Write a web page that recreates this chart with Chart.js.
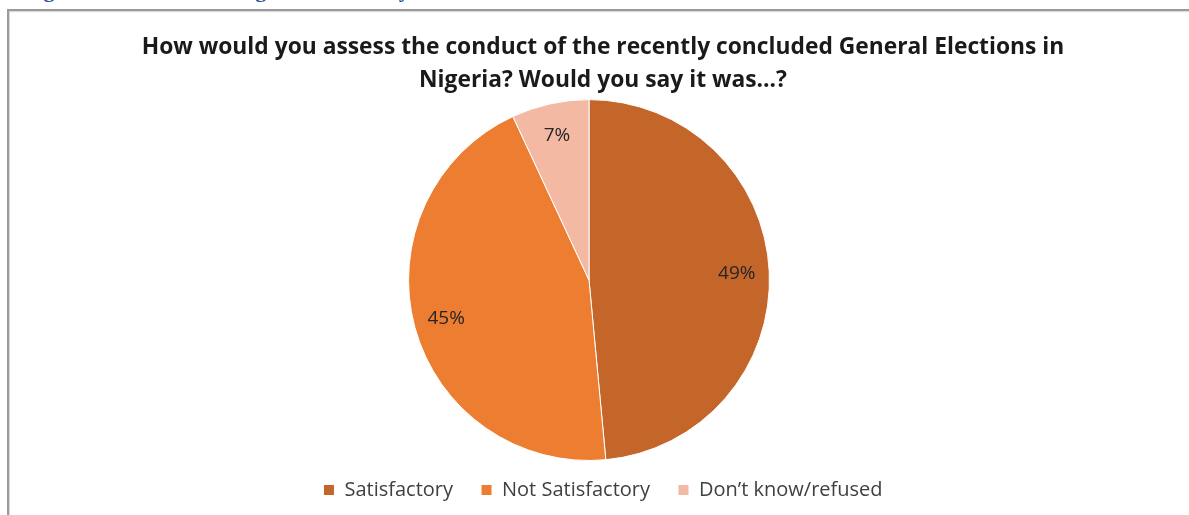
<!DOCTYPE html>
<html lang="en">
<head>
    <meta charset="UTF-8">
    <title>Conduct of the General Elections</title>
    <script src="https://cdn.jsdelivr.net/npm/chart.js"></script>
    <style>
        body { margin: 0; background: #fff; overflow: hidden; }
        .caption {
            position: absolute;
            left: 24px;
            top: -23px;
            line-height: 20px;
            font: bold 22px "Liberation Serif", serif;
            color: #2f5597;
            white-space: nowrap;
        }
        .frame {
            position: absolute;
            left: 7px;
            top: 9px;
            width: 1200px;
            height: 520px;
            border-left: 2px solid #9a9a9a;
            border-top: 2px solid #9a9a9a;
            box-shadow: inset 1px 1px 1px #d8d8d8;
        }
        .box {
            position: absolute;
            left: 10px;
            top: 11px;
            width: 1179px;
            height: 504px;
        }
    </style>
</head>
<body>
    <div class="caption">Figure 13: Overall Rating of Elections by Citizens</div>
    <div class="frame"></div>
    <div class="box"><canvas id="myChart"></canvas></div>

    <script>
    const labels = ['Satisfactory', 'Not Satisfactory', 'Don\u2019t know/refused'];
    const values = [49, 45, 7];
    const colors = ['#c4652a', '#ed7d31', '#f4b9a3'];
    const titleLines = [
        'How would you assess the conduct of the recently concluded General Elections in',
        'Nigeria? Would you say it was\u2026?'
    ];

    // pie sits a little left of the title centre and reaches down into the legend gap
    const pieArea = {
        id: 'pieArea',
        afterLayout(chart) {
            const area = chart.chartArea;
            area.left -= 14;
            area.right -= 14;
            area.bottom += 9;
            area.height += 9;
        }
    };

    // percentage labels inside each slice
    const sliceLabels = {
        id: 'sliceLabels',
        afterDatasetsDraw(chart) {
            const ctx = chart.ctx;
            const meta = chart.getDatasetMeta(0);
            ctx.save();
            ctx.font = '19px "Open Sans"';
            ctx.fillStyle = '#262626';
            ctx.textAlign = 'center';
            ctx.textBaseline = 'middle';
            meta.data.forEach((arc, i) => {
                const mid = (arc.startAngle + arc.endAngle) / 2;
                const r = arc.outerRadius * 0.82;
                ctx.fillText(values[i] + '%', arc.x + Math.cos(mid) * r, arc.y + Math.sin(mid) * r);
            });
            ctx.restore();
        }
    };

    const ctx = document.getElementById('myChart').getContext('2d');
    const myChart = new Chart(ctx, {
        type: 'pie',
        data: {
            labels: labels,
            datasets: [{
                data: values,
                backgroundColor: colors,
                borderColor: '#ffffff',
                borderWidth: 1
            }]
        },
        options: {
            responsive: true,
            maintainAspectRatio: false,
            animation: false,
            layout: {
                padding: { left: 7, right: 0, top: 0, bottom: 5 }
            },
            plugins: {
                title: {
                    display: true,
                    text: titleLines,
                    color: '#1a1a1a',
                    font: { family: 'Open Sans', size: 22.8, weight: 'bold', lineHeight: 1.45 },
                    padding: { top: 19.5, bottom: 2.5 }
                },
                legend: {
                    position: 'bottom',
                    labels: {
                        color: '#404040',
                        font: { family: 'Open Sans', size: 20 },
                        boxWidth: 11,
                        boxHeight: 11,
                        padding: 28
                    }
                },
                tooltip: { enabled: false }
            }
        },
        plugins: [pieArea, sliceLabels]
    });
    </script>
</body>
</html>
